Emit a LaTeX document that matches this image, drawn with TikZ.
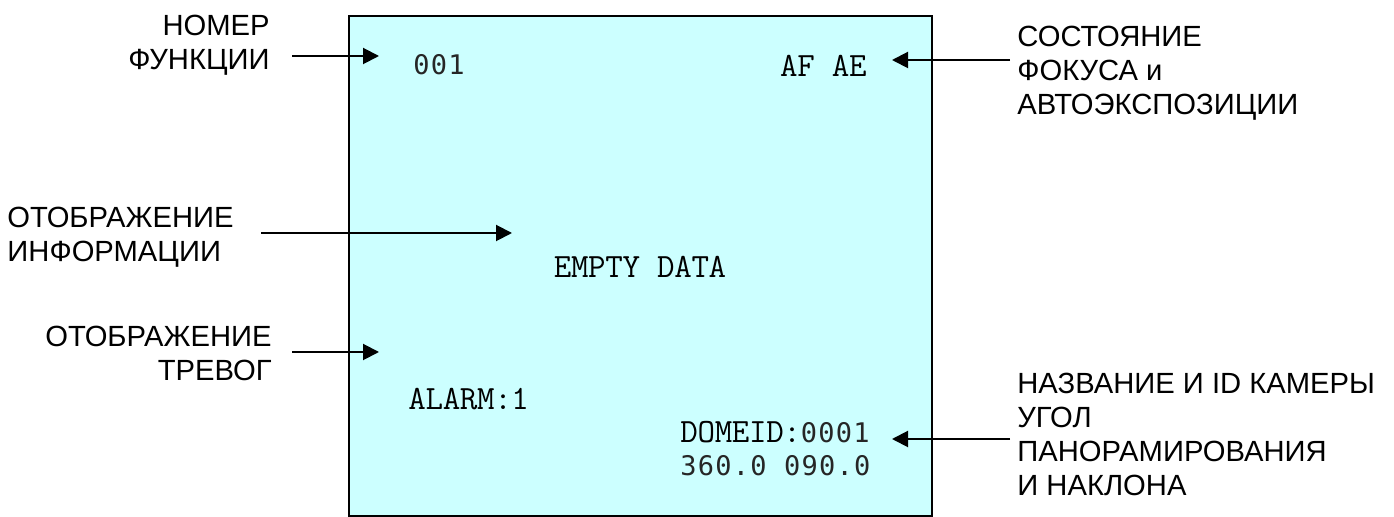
\documentclass[tikz,border=0pt]{standalone}
\usepackage{fontspec}
\setmainfont{Liberation Sans}
\setmonofont{Latin Modern Mono}[LetterSpace=-1]
\newfontfamily\digitfont{DejaVu Sans Mono}[LetterSpace=4.6]
\usetikzlibrary{arrows.meta}
\definecolor{screencyan}{RGB}{204,255,255}
\tikzset{
  callout/.style={font=\fontsize{14.6}{17}\selectfont, inner ysep=0pt},
  osd/.style={font=\ttfamily\fontsize{17}{17}\selectfont, inner sep=0pt},
  osdnum/.style={font=\digitfont\fontsize{13.5}{17}\selectfont, inner sep=0pt, text=black!85},
  pointer/.style={line width=1pt, -{Triangle[length=8pt,width=8pt]}},
}
\begin{document}
\begin{tikzpicture}[x=0.5pt,y=-0.5pt]
  \useasboundingbox (0,0) rectangle (1394,517);
  % screen
  \draw[line width=1pt, fill=screencyan] (349,16) rectangle (932,516);
  \node[osdnum, anchor=west] (fnum) at (413,65) {001};
  \node[osd, anchor=east] (afae) at (867,66) {AF AE};
  \node[osd] (empty) at (640,267) {EMPTY DATA};
  \node[osd, anchor=west] (alarm) at (408,399) {ALARM:1};
  \node[osd, anchor=west] (domeid) at (680,432) {DOMEID:{\digitfont\fontsize{13.5}{17}\selectfont\color{black!85}0001}};
  \node[osdnum, anchor=west] (angles) at (680,466) {360.0 090.0};
  % labels
  \node[callout, anchor=east, align=right, inner xsep=11pt] (fnumlbl) at (292,45) {НОМЕР\\ФУНКЦИИ};
  \node[callout, anchor=east, align=left, inner xsep=13.5pt] (infolbl) at (261,237) {ОТОБРАЖЕНИЕ\\ИНФОРМАЦИИ};
  \node[callout, anchor=east, align=right, inner xsep=10pt] (alarmlbl) at (292,353) {ОТОБРАЖЕНИЕ\\ТРЕВОГ};
  \node[callout, anchor=west, align=left, inner xsep=3.5pt] (statlbl) at (1010,73) {СОСТОЯНИЕ\\ФОКУСА и\\АВТОЭКСПОЗИЦИИ};
  \node[callout, anchor=west, align=left, inner xsep=3.5pt] (camlbl) at (1010,434) {НАЗВАНИЕ И ID КАМЕРЫ\\УГОЛ\\ПАНОРАМИРОВАНИЯ\\И НАКЛОНА};
  % arrow tips
  \coordinate (fnumtip) at (379,56);
  \coordinate (infotip) at (512,233);
  \coordinate (alarmtip) at (379,352);
  \coordinate (stattip) at (892,60);
  \coordinate (camtip) at (892,439);
  \draw[pointer] (fnumlbl.east |- fnumtip) -- (fnumtip);
  \draw[pointer] (infolbl.east |- infotip) -- (infotip);
  \draw[pointer] (alarmlbl.east |- alarmtip) -- (alarmtip);
  \draw[pointer] (statlbl.west |- stattip) -- (stattip);
  \draw[pointer] (camlbl.west |- camtip) -- (camtip);
\end{tikzpicture}
\end{document}
